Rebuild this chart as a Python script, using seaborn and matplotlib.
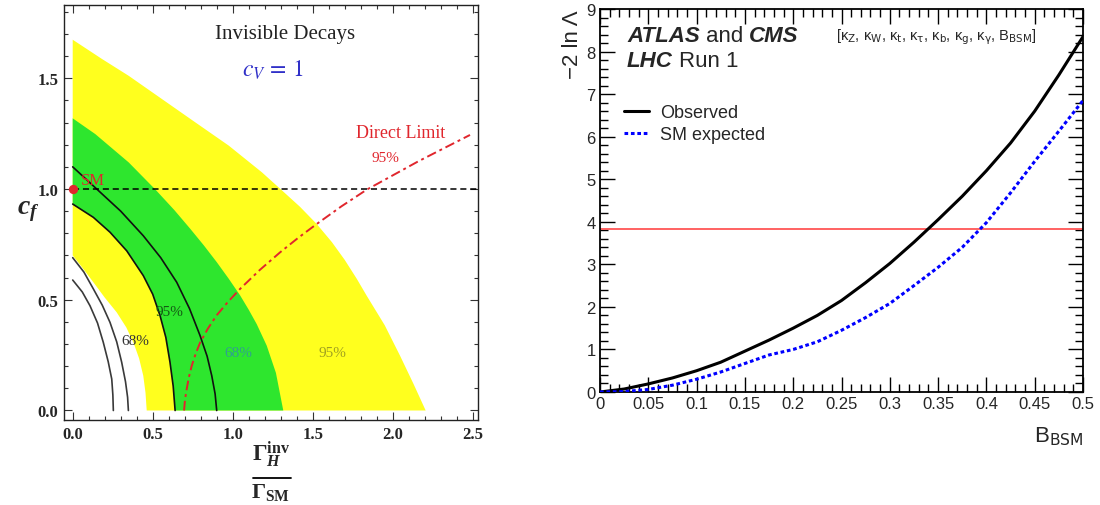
import numpy as np
import pandas as pd
import matplotlib
matplotlib.use("Agg")
import matplotlib.pyplot as plt
from matplotlib.ticker import MultipleLocator, FormatStrFormatter, FuncFormatter
import seaborn as sns

# ------------------------------------------------------------------
# Left panel: allowed regions in the (Gamma_inv / Gamma_SM, c_f) plane
# ------------------------------------------------------------------
yellow_outer_x = [0.0, 0.183, 0.35, 0.558, 0.766, 0.975, 1.183, 1.298, 1.42, 1.525,
                  1.62, 1.70, 1.775, 1.8375, 1.95, 2.046, 2.13, 2.206]
yellow_outer_y = [1.674, 1.587, 1.511, 1.406, 1.301, 1.196, 1.075, 1.0, 0.92, 0.842,
                  0.76, 0.68, 0.595, 0.518, 0.385, 0.247, 0.12, 0.0]

yellow_inner_x = [0.0, 0.06, 0.129, 0.20, 0.275, 0.335, 0.379, 0.415, 0.441, 0.455, 0.4625]
yellow_inner_y = [0.70, 0.645, 0.579, 0.51, 0.443, 0.375, 0.308, 0.235, 0.157, 0.08, 0.0]

green_outer_x = [0.0, 0.141, 0.35, 0.52, 0.635, 0.735, 0.82, 0.90, 0.975, 1.046, 1.10,
                 1.15, 1.2125, 1.27, 1.316]
green_outer_y = [1.319, 1.248, 1.12, 0.995, 0.905, 0.82, 0.745, 0.67, 0.595, 0.52, 0.455,
                 0.39, 0.293, 0.17, 0.0]

# contour lines (the inner 95% line also bounds the green band from below)
line95_inner_x = [0.0, 0.129, 0.233, 0.3375, 0.441, 0.50, 0.546, 0.582, 0.608, 0.628, 0.64]
line95_inner_y = [0.932, 0.872, 0.805, 0.721, 0.609, 0.525, 0.428, 0.33, 0.218, 0.11, 0.0]
line95_outer_x = [0.0, 0.15, 0.30, 0.441, 0.55, 0.65, 0.73, 0.796, 0.84, 0.869, 0.89, 0.90]
line95_outer_y = [1.10, 1.0, 0.90, 0.789, 0.69, 0.579, 0.46, 0.338, 0.245, 0.157, 0.075, 0.0]
line68_outer_x = [0.0, 0.07, 0.129, 0.185, 0.233, 0.275, 0.306, 0.33, 0.343, 0.348]
line68_outer_y = [0.69, 0.625, 0.549, 0.475, 0.398, 0.31, 0.218, 0.13, 0.06, 0.0]
line68_inner_x = [0.0, 0.06, 0.108, 0.155, 0.191, 0.222, 0.244, 0.251, 0.254]
line68_inner_y = [0.589, 0.535, 0.473, 0.395, 0.308, 0.22, 0.142, 0.07, 0.0]

# direct search limit (95%)
direct_x = [0.696, 0.702, 0.7125, 0.726, 0.744, 0.768, 0.797, 0.845, 0.90, 0.97,
            1.046, 1.17, 1.296, 1.41, 1.525, 1.68, 1.8375, 2.16, 2.483]
direct_y = [0.0, 0.05, 0.097, 0.15, 0.202, 0.255, 0.308, 0.37, 0.43, 0.49,
            0.549, 0.635, 0.714, 0.78, 0.842, 0.922, 0.997, 1.125, 1.244]

sm_cf = 1.0
sm_point = (0.0, 1.0)

# ------------------------------------------------------------------
# Right panel: likelihood scan in B_BSM
# ------------------------------------------------------------------
b_bsm = [0.0, 0.025, 0.05, 0.075, 0.1, 0.125, 0.15, 0.175, 0.2, 0.225, 0.25,
         0.275, 0.3, 0.325, 0.35, 0.375, 0.4, 0.425, 0.45, 0.475, 0.5]
observed = [0.0, 0.07, 0.19, 0.33, 0.50, 0.70, 0.96, 1.22, 1.50, 1.80, 2.15,
            2.57, 3.02, 3.52, 4.05, 4.60, 5.20, 5.85, 6.60, 7.45, 8.35]
expected = [0.0, 0.01, 0.06, 0.16, 0.30, 0.47, 0.67, 0.87, 1.00, 1.18, 1.45,
            1.75, 2.08, 2.50, 2.93, 3.40, 3.98, 4.68, 5.42, 6.13, 6.85]
cl95_level = 3.84

# ------------------------------------------------------------------
sns.set_style("ticks")
plt.rcParams["font.family"] = ["Liberation Serif", "DejaVu Serif"]
plt.rcParams["mathtext.fontset"] = "custom"
plt.rcParams["mathtext.rm"] = "Liberation Serif:bold"
plt.rcParams["mathtext.it"] = "Liberation Serif:bold:italic"
plt.rcParams["mathtext.bf"] = "Liberation Serif:bold"

YELLOW = "#ffff1e"
GREEN = "#2ee62e"
RED = "#e0262d"

fig = plt.figure(figsize=(11, 5.06), dpi=100)
axL = fig.add_axes([64 / 1100, 85 / 506, 414 / 1100, 415 / 506])
axR = fig.add_axes([600 / 1100, 113 / 506, 483 / 1100, 383 / 506])


def band(outer_x, outer_y, inner_x, inner_y):
    xs = np.concatenate([outer_x, inner_x[::-1]])
    ys = np.concatenate([outer_y, inner_y[::-1]])
    return xs, ys


xs, ys = band(yellow_outer_x, yellow_outer_y, yellow_inner_x, yellow_inner_y)
axL.fill(xs, ys, color=YELLOW, lw=0, zorder=1)
xs, ys = band(green_outer_x, green_outer_y, line95_inner_x, line95_inner_y)
axL.fill(xs, ys, color=GREEN, lw=0, zorder=2)

for lx, ly, col in [(line95_inner_x, line95_inner_y, "#111111"),
                    (line95_outer_x, line95_outer_y, "#111111"),
                    (line68_outer_x, line68_outer_y, "#3a3a3a"),
                    (line68_inner_x, line68_inner_y, "#3a3a3a")]:
    sns.lineplot(x=lx, y=ly, sort=False, estimator=None, color=col, lw=1.2,
                 ax=axL, zorder=3)

sns.lineplot(x=direct_x, y=direct_y, sort=False, estimator=None, color=RED,
             lw=1.4, ax=axL, zorder=4)
axL.lines[-1].set_linestyle((0, (5, 2, 1.5, 2)))

axL.set_xlim(-0.0544, 2.533)
axL.set_ylim(-0.0429, 1.8307)
axL.hlines(sm_cf, 0.0, axL.get_xlim()[1], colors="black", lw=1.1,
           linestyles=(0, (4, 2.5)), zorder=4)
axL.scatter([sm_point[0]], [sm_point[1]], s=45, color=RED, zorder=6,
            clip_on=False, linewidths=0)

axL.xaxis.set_major_locator(MultipleLocator(0.5))
axL.xaxis.set_minor_locator(MultipleLocator(0.1))
axL.yaxis.set_major_locator(MultipleLocator(0.5))
axL.yaxis.set_minor_locator(MultipleLocator(0.1))
axL.xaxis.set_major_formatter(FormatStrFormatter("%.1f"))
axL.yaxis.set_major_formatter(FormatStrFormatter("%.1f"))
axL.tick_params(which="both", direction="in", top=True, right=True,
                color="#333333", width=0.8)
axL.tick_params(which="major", length=6, labelsize=12, pad=4)
axL.tick_params(which="minor", length=3)
for lab in axL.get_xticklabels() + axL.get_yticklabels():
    lab.set_fontweight("bold")
for sp in axL.spines.values():
    sp.set_linewidth(1.0)
    sp.set_color("#222222")

# x label drawn as a stacked fraction: numerator, bar, denominator
axL.text(0.5, -0.082, r"$\Gamma_{H}^{\mathrm{inv}}$", fontsize=16.5,
         ha="center", va="center", transform=axL.transAxes)
axL.plot([0.4565, 0.548], [-0.140, -0.140], color="black", lw=1.3,
         transform=axL.transAxes, clip_on=False)
axL.text(0.5, -0.172, r"$\Gamma_{\mathrm{SM}}$", fontsize=16,
         ha="center", va="center", transform=axL.transAxes)

axL.set_ylabel(r"$c_f$", fontsize=20, rotation=0, va="center", ha="center")
axL.yaxis.set_label_coords(-0.087, 0.504)

axL.text(1.327, 1.70, "Invisible Decays", fontsize=15, ha="center",
         va="center", color="#222222")
axL.text(1.253, 1.542, r"$c_V\,=\,1$", fontsize=17, ha="center", va="center",
         color="#3030c8", math_fontfamily="stix")
axL.text(2.052, 1.257, "Direct Limit", fontsize=13, ha="center", va="center",
         color=RED)
axL.text(1.952, 1.14, "95%", fontsize=11, ha="center", va="center", color=RED)
axL.text(0.124, 1.041, "SM", fontsize=12, ha="center", va="center", color=RED)
axL.text(0.389, 0.314, "68%", fontsize=11, ha="center", va="center",
         color="#333333")
axL.text(0.602, 0.445, "95%", fontsize=11, ha="center", va="center",
         color="#145a14")
axL.text(1.036, 0.26, "68%", fontsize=11, ha="center", va="center",
         color="#30a090")
axL.text(1.624, 0.26, "95%", fontsize=11, ha="center", va="center",
         color="#a0a020")

# ------------------------------------------------------------------
SANS = ["Liberation Sans", "DejaVu Sans"]
scan = pd.DataFrame({"B": b_bsm * 2,
                     "nll": observed + expected,
                     "curve": ["Observed"] * len(b_bsm) + ["SM expected"] * len(b_bsm)})
sns.lineplot(data=scan, x="B", y="nll", hue="curve", style="curve",
             palette={"Observed": "black", "SM expected": "#0000ff"},
             dashes={"Observed": "", "SM expected": (1.2, 0.9)},
             lw=2.2, ax=axR, zorder=3)
axR.axhline(cl95_level, color="#ff5555", lw=1.3, zorder=2)

axR.set_xlim(0, 0.5)
axR.set_ylim(0, 9)
axR.xaxis.set_major_locator(MultipleLocator(0.05))
axR.xaxis.set_minor_locator(MultipleLocator(0.01))
axR.yaxis.set_major_locator(MultipleLocator(1))
axR.yaxis.set_minor_locator(MultipleLocator(0.2))
axR.xaxis.set_major_formatter(FuncFormatter(
    lambda v, p: "0" if abs(v) < 1e-9 else ("%g" % v)))
axR.tick_params(which="both", direction="in", top=True, right=True,
                width=1.0, color="black")
axR.tick_params(which="major", length=11, labelsize=12, pad=3)
axR.tick_params(which="minor", length=5.5)
for lab in axR.get_xticklabels() + axR.get_yticklabels():
    lab.set_fontfamily(SANS)
for sp in axR.spines.values():
    sp.set_linewidth(1.3)
    sp.set_color("black")

axR.set_ylabel("\u22122 ln \u039b", fontsize=16, family=SANS, loc="top")
axR.yaxis.set_label_coords(-0.035, 1.0)
axR.set_xlabel(r"B$_{\mathrm{BSM}}$", fontsize=16, family=SANS, loc="right",
               math_fontfamily="dejavusans")
axR.xaxis.set_label_coords(1.0, -0.085)
axR.xaxis.label.set_va("top")

axR.legend(loc="upper left", bbox_to_anchor=(0.035, 0.77), frameon=False,
           handlelength=1.4, handletextpad=0.6, labelspacing=0.25,
           prop={"family": SANS, "size": 13}, borderaxespad=0)

renderer = fig.canvas.get_renderer()


def text_run(ax, x, y, pieces, size, gap_px=6):
    """Write consecutive words with different styles on one line."""
    for txt, weight, style in pieces:
        t = ax.text(x, y, txt, fontsize=size, ha="left", va="center",
                    transform=ax.transAxes, family=SANS, weight=weight,
                    style=style)
        bb = t.get_window_extent(renderer)
        x = ax.transAxes.inverted().transform((bb.x1 + gap_px, bb.y0))[0]


text_run(axR, 0.056, 0.93, [("ATLAS", "bold", "italic"),
                            ("and", "normal", "normal"),
                            ("CMS", "bold", "italic")], 16)
text_run(axR, 0.056, 0.866, [("LHC", "bold", "italic"),
                             ("Run 1", "normal", "normal")], 16)

axR.text(0.489, 0.93,
         "[\u03ba$_{\\mathrm{Z}}$, \u03ba$_{\\mathrm{W}}$, \u03ba$_{\\mathrm{t}}$, "
         "\u03ba$_{\\mathrm{\\tau}}$, \u03ba$_{\\mathrm{b}}$, \u03ba$_{\\mathrm{g}}$, "
         "\u03ba$_{\\mathrm{\\gamma}}$, B$_{\\mathrm{BSM}}$]",
         fontsize=10.5, ha="left", va="center", transform=axR.transAxes,
         family=SANS, math_fontfamily="dejavusans")

fig.savefig("out.png", dpi=100)
